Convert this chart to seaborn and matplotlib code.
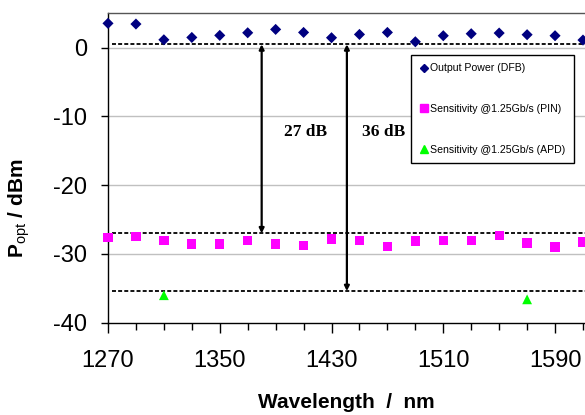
import matplotlib
matplotlib.use("Agg")
import matplotlib.pyplot as plt
import seaborn as sns
import pandas as pd
from matplotlib.lines import Line2D

sns.set_theme(style="white")
plt.rcParams['font.family'] = ['Liberation Sans', 'DejaVu Sans']
plt.rcParams['mathtext.fontset'] = 'custom'
plt.rcParams['mathtext.rm'] = 'Liberation Sans'
plt.rcParams['mathtext.bf'] = 'Liberation Sans:bold'
plt.rcParams['axes.unicode_minus'] = False
plt.rcParams['text.color'] = 'black'
plt.rcParams['axes.labelcolor'] = 'black'
plt.rcParams['xtick.color'] = 'black'
plt.rcParams['ytick.color'] = 'black'

wavelength = [1270, 1290, 1310, 1330, 1350, 1370, 1390, 1410, 1430,
              1450, 1470, 1490, 1510, 1530, 1550, 1570, 1590, 1610]
output_power = [3.55, 3.45, 1.16, 1.5, 1.8, 2.18, 2.67, 2.23, 1.46,
                1.94, 2.23, 0.87, 1.75, 2.04, 2.14, 1.9, 1.75, 1.12]
sens_pin = [-27.58, -27.49, -28.02, -28.55, -28.55, -28.02, -28.55, -28.8, -27.83,
            -28.02, -28.94, -28.12, -28.02, -28.02, -27.34, -28.41, -28.99, -28.26]
apd_wavelength = [1310, 1570]
sens_apd = [-36.0, -36.6]

ref_levels = [0.5, -27.0, -35.4]
arrow_x = [1380, 1441]
arrow_bottom = [-27.0, -35.4]
arrow_labels = ["27 dB", "36 dB"]
label_x = [1411.5, 1467]
label_y = -12.2

labels = ["Output Power (DFB)", "Sensitivity @1.25Gb/s (PIN)", "Sensitivity @1.25Gb/s (APD)"]

df_pow = pd.DataFrame({"wl": wavelength, "p": output_power})
df_pin = pd.DataFrame({"wl": wavelength, "p": sens_pin})
df_apd = pd.DataFrame({"wl": apd_wavelength, "p": sens_apd})

fig = plt.figure(figsize=(5.85, 4.15), dpi=100)
ax = fig.add_axes([108/585, (415-322.7)/415, 350*1.397/585, 310/415])

for lvl in [0, -10, -20, -30]:
    ax.axhline(lvl, color="#c0c0c0", lw=1.0, zorder=0)

for lvl in ref_levels:
    ax.hlines(lvl, 1273, 1620, colors="black", linestyles=(0, (2.2, 1.2)), lw=1.3, zorder=1)

for xa, yb in zip(arrow_x, arrow_bottom):
    ax.annotate("", xy=(xa, yb), xytext=(xa, ref_levels[0]),
                arrowprops=dict(arrowstyle="<|-|>", color="black", lw=1.6,
                                mutation_scale=7, shrinkA=0, shrinkB=0), zorder=2)
for xl, t in zip(label_x, arrow_labels):
    ax.text(xl, label_y, t, ha="center", va="center", fontsize=12.5,
            fontweight="bold", family="Liberation Serif", color="black")

sns.scatterplot(data=df_pow, x="wl", y="p", marker="D", color="#000080", s=32,
                edgecolor="none", ax=ax, zorder=3, clip_on=False)
sns.scatterplot(data=df_pin, x="wl", y="p", marker="s", color="#FF00FF", s=45,
                edgecolor="none", ax=ax, zorder=3, clip_on=False)
sns.scatterplot(data=df_apd, x="wl", y="p", marker="^", color="#00FF00", s=50,
                edgecolor="none", ax=ax, zorder=3, clip_on=False)

ax.set_xlim(1270, 1620)
ax.set_ylim(-40, 5.1)
ax.set_xticks(list(range(1270, 1620, 20)), minor=True)
ax.set_xticks([1270, 1350, 1430, 1510, 1590])
ax.set_yticks([-40, -30, -20, -10, 0])
ax.tick_params(axis="x", which="major", direction="out", length=7, width=1, color="black",
               labelcolor="black", bottom=True, labelsize=17, pad=13)
ax.tick_params(axis="x", which="minor", direction="out", length=5, width=1, color="black",
               bottom=True)
ax.tick_params(axis="y", direction="out", length=5, width=1, color="black", left=True,
               labelcolor="black", labelsize=17, pad=10)

for s in ["left", "bottom", "top"]:
    ax.spines[s].set_color("black")
    ax.spines[s].set_linewidth(1.0)
ax.spines["top"].set_color("#555555")
ax.spines["right"].set_visible(False)

ax.set_xlabel("Wavelength  /  nm", fontsize=15, fontweight="bold", color="black")
ax.xaxis.set_label_coords(0.487, -0.228)
ax.set_ylabel(r"$\mathbf{P}_{\mathrm{opt}}$ / dBm", fontsize=15, fontweight="bold", color="black")
ax.yaxis.set_label_coords(-0.155, 0.37)

handles = [
    Line2D([], [], marker="D", color="#000080", ls="none", markersize=4.5),
    Line2D([], [], marker="s", color="#FF00FF", ls="none", markersize=6),
    Line2D([], [], marker="^", color="#00FF00", ls="none", markersize=6),
]
leg = ax.legend(handles, labels, loc="upper left", bbox_to_anchor=(0.62, 0.864),
                fontsize=7.6, frameon=True, fancybox=False, framealpha=1,
                labelspacing=2.9, handlelength=0.8, handletextpad=0.2,
                borderpad=0.8, borderaxespad=0)
leg.get_frame().set_edgecolor("black")
leg.get_frame().set_linewidth(1.0)
for t in leg.get_texts():
    t.set_color("black")

fig.savefig("out.png", dpi=100, facecolor="white")
